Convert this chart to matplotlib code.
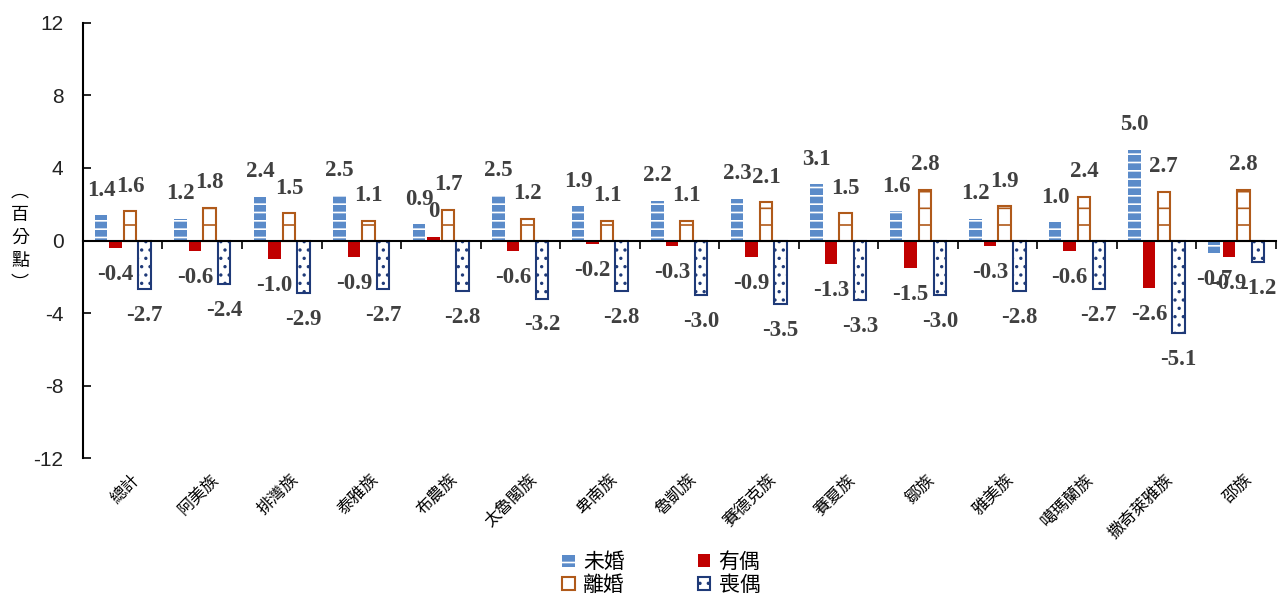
import numpy as np
import matplotlib.pyplot as plt
from matplotlib.patches import Patch
from matplotlib.transforms import blended_transform_factory

plt.rcParams['font.family'] = ['Noto Sans CJK TC', 'DejaVu Sans']
plt.rcParams['hatch.linewidth'] = 1.2
plt.rcParams['axes.unicode_minus'] = False

categories = ['總計', '阿美族', '排灣族', '泰雅族', '布農族', '太魯閣族', '卑南族', '魯凱族',
              '賽德克族', '賽夏族', '鄒族', '雅美族', '噶瑪蘭族', '撒奇萊雅族', '邵族']
series = ['未婚', '有偶', '離婚', '喪偶']
unmarried = [1.4, 1.2, 2.4, 2.5, 0.9, 2.5, 1.9, 2.2, 2.3, 3.1, 1.6, 1.2, 1.0, 5.0, -0.7]
married = [-0.4, -0.6, -1.0, -0.9, 0.2, -0.6, -0.2, -0.3, -0.9, -1.3, -1.5, -0.3, -0.6, -2.6, -0.9]
divorced = [1.6, 1.8, 1.5, 1.1, 1.7, 1.2, 1.1, 1.1, 2.1, 1.5, 2.8, 1.9, 2.4, 2.7, 2.8]
widowed = [-2.7, -2.4, -2.9, -2.7, -2.8, -3.2, -2.8, -3.0, -3.5, -3.3, -3.0, -2.8, -2.7, -5.1, -1.2]
# label text as printed in the chart (布農族 有偶 is shown as "0")
married_labels = ['-0.4', '-0.6', '-1.0', '-0.9', '0', '-0.6', '-0.2', '-0.3', '-0.9',
                  '-1.3', '-1.5', '-0.3', '-0.6', '-2.6', '-0.9']

styles = [
    dict(facecolor='#5B8BC9', edgecolor='white', hatch='--', linewidth=0),
    dict(facecolor='#C00000', edgecolor='#C00000', linewidth=0),
    dict(facecolor='white', edgecolor='#B05A1A', hatch='-', linewidth=1.5),
    dict(facecolor='white', edgecolor='#1F3A78', hatch='..', linewidth=1.5),
]

fig = plt.figure(figsize=(12.84, 5.97), dpi=100)
ax = fig.add_axes([0.0646, 0.2328, 0.929, 0.7287])

x = np.arange(len(categories))
w = 0.157
step = 0.183
data = [unmarried, married, divorced, widowed]
lab_font = dict(family='Liberation Serif', weight='bold', size=16.5, color='#404040')
for i, (vals, st) in enumerate(zip(data, styles)):
    pos = x + (i - 1.5) * step
    ax.bar(pos, vals, width=w, **st)
    for j, (px, v) in enumerate(zip(pos, vals)):
        txt = married_labels[j] if i == 1 else f'{v:.1f}'
        off = 18 if v >= 0 else -19
        ax.annotate(txt, (px, v), xytext=(0, off), textcoords='offset points',
                    ha='center', va='center', **lab_font)

ax.set_xlim(-0.5, len(categories) - 0.5)
ax.set_ylim(-12, 12)
ax.set_yticks([-12, -8, -4, 0, 4, 8, 12])
ax.tick_params(axis='y', direction='in', length=6, width=1.2, labelsize=15,
               pad=14, labelcolor='#222222')
for lab in ax.get_yticklabels():
    lab.set_fontfamily('Liberation Sans')

ax.spines['top'].set_visible(False)
ax.spines['right'].set_visible(False)
ax.spines['left'].set_linewidth(1.5)
ax.spines['bottom'].set_position(('data', 0))
ax.spines['bottom'].set_linewidth(1.5)
ax.set_xticks(np.arange(len(categories) + 1) - 0.5)
ax.set_xticklabels([])
ax.tick_params(axis='x', direction='out', length=6, width=1.2)

trans = blended_transform_factory(ax.transData, ax.transAxes)
for xi, c in zip(x, categories):
    ax.text(xi + 0.1, -0.03, c, transform=trans, rotation=45, ha='right', va='top',
            fontsize=12, rotation_mode='anchor')

# vertical y-axis title, one character per row
for k, ch in enumerate(['︵', '百', '分', '點', '︶']):
    fig.text(20 / 1284, 1 - (192 + k * 23) / 597, ch, ha='center', va='center', fontsize=13)

handles = [Patch(**st) for st in styles]
order = [0, 2, 1, 3]
leg = fig.legend([handles[k] for k in order], [series[k] for k in order], ncol=2,
                 loc='center', bbox_to_anchor=(0.515, 0.04), frameon=False, fontsize=15,
                 handlelength=0.6, handleheight=0.6, handletextpad=0.4,
                 columnspacing=3.5, labelspacing=0.05)

fig.savefig('out.png', dpi=100)
